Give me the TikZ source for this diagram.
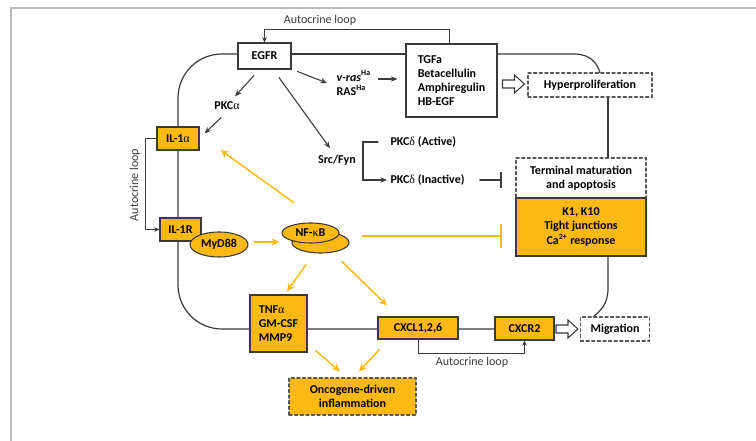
\documentclass[tikz,border=0pt]{standalone}
\usepackage{fontspec}
\setmainfont{Carlito}
\newfontfamily\grk{Liberation Serif}
\newcommand{\gr}[1]{{\grk\mdseries #1}}
\usetikzlibrary{arrows.meta,calc,shapes.geometric}
\definecolor{amber}{HTML}{FDB913}
\definecolor{edge}{HTML}{3A3A3A}

\begin{document}
\begin{tikzpicture}[x=0.75pt,y=-0.75pt,>={Stealth[length=5pt,width=4pt]},line cap=round,
  font=\fontsize{9}{10.6}\selectfont\bfseries,
  box/.style={draw=edge,line width=0.8pt,fill=white,inner sep=1pt,align=center},
  gene/.style={box,fill=amber},
  outcome/.style={box,draw=edge!85,dash pattern=on 2.4pt off 1.8pt},
  blob/.style={ellipse,draw=edge,line width=0.8pt,fill=amber,inner sep=0pt},
  loop/.style={font=\fontsize{9}{10.6}\selectfont\mdseries,text=edge},
  looparrow/.style={edge,line width=0.6pt,->,>={Stealth[length=4pt,width=3.4pt]}},
  oarr/.style={amber,line width=1.1pt,->,>={Stealth[length=6pt,width=5.5pt]}},
  hollow/.style={draw=edge,line width=0.8pt,fill=white,line join=miter}]
\useasboundingbox (0,0) rectangle (756,441);
\draw[gray!55,line width=0.9pt] (756,8) -- (11,8) -- (11,441);

\draw[edge,line width=0.9pt,rounded corners=33pt] (238,54) -- (178,54) -- (178,329) -- (495,329);
\draw[edge,line width=0.9pt] (291,54) -- (406,54);
\draw[edge,line width=0.9pt] (497,54) -- (575,54) .. controls (590,54) and (598,64) .. (600,73);
\draw[edge,line width=0.9pt] (608,97) -- (608,158);
\draw[edge,line width=0.9pt] (608,256) -- (608,288) .. controls (608,305) and (600,311) .. (593,317);

\node[box,minimum width=39.75pt,minimum height=19.5pt] (egfr) at (264.5,56) {EGFR};
\node[box,minimum width=68.25pt,minimum height=54.75pt,align=left] (tgf) at (451.5,80.5) {TGFa\\Betacellulin\\Amphiregulin\\HB-EGF};
\node[outcome,minimum width=93pt,minimum height=18pt] (hyper) at (590,85) {Hyperproliferation};
\node[outcome,minimum width=97.5pt,minimum height=30pt] (term) at (581,178) {Terminal maturation\\and apoptosis};
\node[gene,minimum width=97.5pt,minimum height=43.5pt] (k1) at (581,227) {K1, K10\\Tight junctions\\Ca\textsuperscript{2+} response};
\node[gene,minimum width=31.5pt,minimum height=17.25pt] (il1a) at (178,138.5) {IL-1\gr{α}};
\node[gene,minimum width=30.75pt,minimum height=17.25pt] (il1r) at (180.5,229.5) {IL-1R};
\node[blob,minimum width=43.5pt,minimum height=18.75pt] (myd) at (219,244.5) {MyD88};
\node[blob,minimum width=42.75pt,minimum height=15.75pt] (nfkbb) at (320.5,242.5) {};
\node[blob,minimum width=42.75pt,minimum height=15pt] (nfkb) at (310.5,233) {NF-\gr{κ}B};
\node[gene,minimum width=42.75pt,minimum height=42.75pt,align=left] (tnf) at (278.5,323.5) {TNF\gr{α}\\GM-CSF\\MMP9};
\node[gene,minimum width=60pt,minimum height=16.5pt] (cxcl) at (418,328) {CXCL1,2,6};
\node[gene,minimum width=44.25pt,minimum height=17.25pt] (cxcr) at (524.5,328.5) {CXCR2};
\node[outcome,minimum width=51.75pt,minimum height=18pt] (migr) at (615,329) {Migration};
\node[outcome,fill=amber,minimum width=95.25pt,minimum height=27.75pt] (onc) at (352.5,396.5) {Oncogene-driven\\inflammation};

\node[inner sep=1pt] (pkca) at (227,106) {PKC\gr{α}};
\node[anchor=west,align=left,inner sep=1pt] (ras) at (335,83) {\textit{v-ras}\textsuperscript{Ha}\\RAS\textsuperscript{Ha}};
\node[inner sep=1pt] (src) at (337,160) {Src/Fyn};
\node[anchor=west,inner sep=1pt] (pkcact) at (389,142) {PKC\gr{δ} (Active)};
\node[anchor=west,inner sep=1pt] (pkcina) at (389,180) {PKC\gr{δ} (Inactive)};

\node[loop] (looptop) at (320,20) {Autocrine loop};
\node[loop,rotate=90] (loopleft) at (135,185) {Autocrine loop};
\node[loop] (loopbot) at (472,362) {Autocrine loop};
\draw[looparrow] ($(tgf.north)+(-2,0)$) -- ++(0,-14) -| (egfr.north);
\draw[looparrow] (il1a.west) -- ++(-11,0) |- (il1r.west);
\draw[looparrow] (cxcl.south) -- ++(0,14) -| (cxcr.south);

\draw[edge,line width=0.8pt,->] ($(egfr.south)+(-10.5,6)$) -- ($(pkca.north)+(8,-4)$);
\draw[edge,line width=0.8pt,->] ($(pkca.south)+(-6,6)$) -- ($(il1a.north east)+(5,7)$);
\draw[edge,line width=0.8pt,->] ($(egfr.south east)+(6,2)$) -- ($(ras.west)+(-8,0)$);
\draw[edge,line width=0.8pt,->] ($(ras.east)+(6,-4)$) -- ($(tgf.west)+(-8,-1.5)$);
\draw[edge,line width=0.8pt,->] ($(egfr.south)+(14.5,8)$) -- ($(src.north)+(-7,-5)$);
\draw[edge,line width=0.8pt,->] ($(pkcact.west)+(-11,0)$) -- ++(-15,0) |- ($(pkcina.west)+(-2,0)$);
\draw[edge,line width=1.8pt,-{Bar[width=12pt]}] ($(pkcina.east)+(14,0)$) -- ($(term.west)+(-13,2)$);

\draw[oarr] ($(nfkb.north)+(-17,-20)$) -- ($(il1a.east)+(21,11.5)$);
\draw[oarr] ($(myd.east)+(6,-2.5)$) -- ($(nfkbb.west)+(-12,-0.5)$);
\draw[amber,line width=1.6pt,-{Bar[width=18pt]}] ($(nfkb.east)+(23,3)$) -- ($(k1.west)+(-13,9)$);
\draw[oarr] ($(nfkbb.south)+(-14.5,11)$) -- ($(tnf.north)+(8.5,-3)$);
\draw[oarr] ($(nfkbb.south)+(21.5,8)$) -- ($(cxcl.north)+(-31,-11)$);
\draw[oarr] ($(tnf.south east)+(8,-2)$) -- ($(onc.north)+(-12.5,-6)$);
\draw[oarr] ($(cxcl.south west)+(2,10)$) -- ($(onc.north)+(6.5,-6)$);

\draw[hollow] ($(hyper.west)+(-25,-5)$) -- ++(12,0) -- ++(0,-5) -- ++(10,9) -- ++(-10,9) -- ++(0,-5) -- ++(-12,0) -- cycle;
\draw[hollow] ($(migr.west)+(-24,-4)$) -- ++(12,0) -- ++(0,-5) -- ++(10,9) -- ++(-10,9) -- ++(0,-5) -- ++(-12,0) -- cycle;
\end{tikzpicture}
\end{document}
